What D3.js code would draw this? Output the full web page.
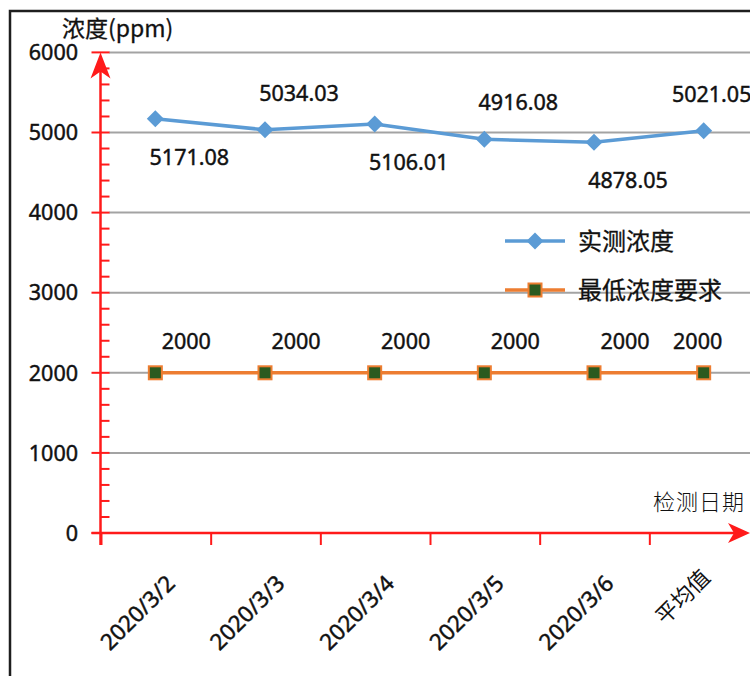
<!DOCTYPE html>
<html>
<head>
<meta charset="utf-8">
<script src="https://cdn.jsdelivr.net/npm/d3@7"></script>
<style>
  html, body { margin: 0; padding: 0; background: #fff; }
  svg { display: block; }
  text { font-family: "Noto Sans", "Noto Sans CJK SC", sans-serif; fill: #111; }
  .cjk { font-family: "Noto Sans CJK SC", "Noto Sans", sans-serif; }
  .num { stroke: #111; stroke-width: 0.45px; }
</style>
</head>
<body>
<svg id="chart" width="750" height="676"></svg>
<script>
// Categories (detection dates plus the average column)
const categories = ["2020/3/2", "2020/3/3", "2020/3/4", "2020/3/5", "2020/3/6", "平均值"];
// Measured concentration (ppm)
const measured = [5171.08, 5034.03, 5106.01, 4916.08, 4878.05, 5021.05];
// Minimum required concentration (ppm)
const required = [2000, 2000, 2000, 2000, 2000, 2000];
// Where each measured-value label sits relative to its point
const measuredLabelSide = ["below", "above", "below", "above", "below", "above"];
// Y axis ticks
const yTicks = [0, 1000, 2000, 3000, 4000, 5000, 6000];
const seriesNames = ["实测浓度", "最低浓度要求"];
const yTitle = "浓度(ppm)";
const xTitle = "检测日期";

const RED = "#ff1a1a";
const BLUE = "#5b9bd5";
const ORANGE = "#ed7d31";
const GREEN = "#2b5a1f";

const svg = d3.select("#chart");

// Outer frame (top and left edges)
svg.append("path")
  .attr("d", "M10,676 L10,11 L750,11")
  .attr("fill", "none").attr("stroke", "#1e1e1e").attr("stroke-width", 2.5);

const x0 = 100.5, x1 = 758.5;
const x = d3.scaleBand().domain(categories).range([x0, x1]).paddingInner(0).paddingOuter(0);
const y = d3.scaleLinear().domain([0, 6000]).range([533, 52.4]);
const cx = d => x(d) + x.bandwidth() / 2;

// Horizontal gridlines
svg.append("g").selectAll("line").data(yTicks.filter(t => t > 0)).join("line")
  .attr("x1", 109).attr("x2", 750)
  .attr("y1", d => y(d)).attr("y2", d => y(d))
  .attr("stroke", "#a3a3a3").attr("stroke-width", 2);

// Y axis with major ticks every 1000 and minor ticks every 200
const yAxisG = svg.append("g").attr("transform", `translate(${x0},0)`);
const minor = d3.range(200, 6000, 200).filter(v => v % 1000 !== 0);
yAxisG.selectAll("line.minor").data(minor).join("line")
  .attr("class", "minor")
  .attr("x1", 0).attr("x2", 9).attr("y1", d => y(d)).attr("y2", d => y(d))
  .attr("stroke", RED).attr("stroke-width", 2);
yAxisG.selectAll("line.major").data(yTicks).join("line")
  .attr("class", "major")
  .attr("x1", -9).attr("x2", 9).attr("y1", d => y(d)).attr("y2", d => y(d))
  .attr("stroke", RED).attr("stroke-width", 2);
yAxisG.append("line").attr("x1", 0).attr("x2", 0).attr("y1", y(0) + 12).attr("y2", y(6000) + 10)
  .attr("stroke", RED).attr("stroke-width", 2.5);
// arrowhead at the top of the y axis
yAxisG.append("path")
  .attr("d", `M0,${y(6000)} L10,${y(6000) + 26} L0,${y(6000) + 19} L-10,${y(6000) + 26} Z`)
  .attr("fill", RED);

// Y tick labels
svg.append("g").selectAll("text").data(yTicks).join("text")
  .attr("class", "num")
  .attr("x", 78).attr("y", d => y(d)).attr("dy", "0.36em")
  .attr("text-anchor", "end").attr("font-size", 21.5)
  .text(d => d);

// X axis line with ticks at band boundaries and arrowhead
const xAxisG = svg.append("g");
xAxisG.append("line").attr("x1", x0 - 9).attr("x2", 740).attr("y1", y(0)).attr("y2", y(0))
  .attr("stroke", RED).attr("stroke-width", 2.5);
xAxisG.selectAll("line.tick").data(categories).join("line")
  .attr("class", "tick")
  .attr("x1", d => x(d) + 1).attr("x2", d => x(d) + 1)
  .attr("y1", y(0)).attr("y2", y(0) + 12)
  .attr("stroke", RED).attr("stroke-width", 2);
xAxisG.append("path")
  .attr("d", `M750,${y(0)} L728,${y(0) - 10} L734,${y(0)} L728,${y(0) + 10} Z`)
  .attr("fill", RED);

// Rotated category labels (dates in a Latin face, the average column in CJK)
svg.append("g").selectAll("text").data(categories).join("text")
  .attr("class", d => /\d/.test(d) ? "num" : "cjk")
  .attr("text-anchor", "end").attr("font-size", d => /\d/.test(d) ? 22.5 : 22)
  .attr("transform", d => /\d/.test(d)
    ? `translate(${cx(d) + 21},${y(0) + 52}) rotate(-45)`
    : `translate(${cx(d) + 8},${y(0) + 46}) rotate(-45)`)
  .text(d => d);

// Axis titles
svg.append("text").attr("class", "cjk").attr("x", 62).attr("y", 37)
  .attr("font-size", 23).style("stroke", "#111").style("stroke-width", "0.3px").text(yTitle);
svg.append("text").attr("class", "cjk").attr("x", 745).attr("y", 510)
  .attr("text-anchor", "end").attr("font-size", 22).attr("font-weight", 300)
  .style("letter-spacing", "1px").text(xTitle);

// Series lines
const line = d3.line().x((d, i) => cx(categories[i])).y(d => y(d));
svg.append("path").datum(required).attr("d", line)
  .attr("fill", "none").attr("stroke", ORANGE).attr("stroke-width", 3.5);
svg.append("path").datum(measured).attr("d", line)
  .attr("fill", "none").attr("stroke", BLUE).attr("stroke-width", 3.5);

// Markers
const diamond = (px, py, r) => `M${px},${py - r} L${px + r},${py} L${px},${py + r} L${px - r},${py} Z`;
svg.append("g").selectAll("path").data(measured).join("path")
  .attr("d", (d, i) => diamond(cx(categories[i]), y(d), 8.5))
  .attr("fill", BLUE);
svg.append("g").selectAll("rect").data(required).join("rect")
  .attr("x", (d, i) => cx(categories[i]) - 6.5).attr("y", d => y(d) - 6.5)
  .attr("width", 13).attr("height", 13)
  .attr("fill", GREEN).attr("stroke", ORANGE).attr("stroke-width", 2);

// Data labels
const last = categories.length - 1;
svg.append("g").selectAll("text").data(measured).join("text")
  .attr("class", "num")
  .attr("x", (d, i) => cx(categories[i]) + (i === last ? 8 : 34))
  .attr("y", (d, i) => y(d) + (measuredLabelSide[i] === "above" ? -37 : 38))
  .attr("dy", "0.36em").attr("text-anchor", "middle").attr("font-size", 21.5)
  .text(d => d.toFixed(2));
svg.append("g").selectAll("text").data(required).join("text")
  .attr("class", "num")
  .attr("x", (d, i) => cx(categories[i]) + (i === last ? -6 : 31))
  .attr("y", d => y(d) - 32)
  .attr("dy", "0.36em").attr("text-anchor", "middle").attr("font-size", 21.5)
  .text(d => d);

// Legend
const legend = svg.append("g").attr("transform", "translate(505,0)");
const legendRows = [
  { name: seriesNames[0], color: BLUE, yy: 241, marker: "diamond" },
  { name: seriesNames[1], color: ORANGE, yy: 290, marker: "square" }
];
legendRows.forEach(r => {
  legend.append("line").attr("x1", 0).attr("x2", 60).attr("y1", r.yy).attr("y2", r.yy)
    .attr("stroke", r.color).attr("stroke-width", 3.5);
  if (r.marker === "diamond") {
    legend.append("path").attr("d", diamond(30, r.yy, 8.5)).attr("fill", BLUE);
  } else {
    legend.append("rect").attr("x", 23.5).attr("y", r.yy - 6.5).attr("width", 13).attr("height", 13)
      .attr("fill", GREEN).attr("stroke", ORANGE).attr("stroke-width", 2);
  }
  legend.append("text").attr("class", "cjk").attr("x", 73).attr("y", r.yy).attr("dy", "0.36em")
    .attr("font-size", 24).style("stroke", "#111").style("stroke-width", "0.3px").text(r.name);
});
</script>
</body>
</html>
